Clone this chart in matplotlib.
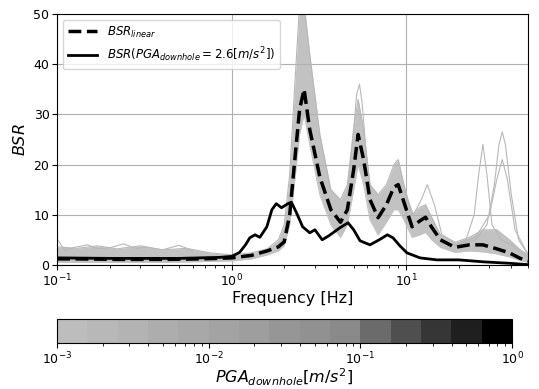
import numpy as np
import matplotlib
matplotlib.use('Agg')
import matplotlib.pyplot as plt
from matplotlib.colors import ListedColormap, LogNorm
from matplotlib.cm import ScalarMappable

# common frequency grid [Hz]
freq = [0.1, 0.13, 0.17, 0.22, 0.3, 0.4, 0.55, 0.75, 1.0, 1.3, 1.6, 1.85, 2.0,
        2.15, 2.3, 2.45, 2.6, 2.8, 3.2, 3.7, 4.2, 4.6, 5.0, 5.3, 5.7, 6.2, 6.9,
        7.7, 8.5, 9.0, 9.7, 10.8, 12.0, 12.9, 14.0, 15.7, 19.0, 23.0, 27.5,
        33.0, 39.0, 45.0, 50.0]

bsr_linear = [1.2, 1.2, 1.15, 1.1, 1.1, 1.1, 1.15, 1.25, 1.4, 1.9, 2.8, 3.6, 4.6,
              10.0, 21.0, 31.0, 35.0, 27.0, 17.5, 11.0, 8.5, 11.0, 19.0, 26.0,
              21.0, 13.0, 9.4, 12.0, 15.5, 16.0, 12.5, 7.6, 8.8, 9.5, 7.5, 5.0,
              3.5, 4.0, 4.0, 3.2, 2.4, 1.3, 0.8]

# envelope of the bundle of BSR curves (all PGA levels)
band_hi = [3.6, 3.3, 3.8, 3.2, 3.8, 3.0, 3.3, 2.4, 2.0, 2.4, 3.2, 5.0, 8.0,
           18.0, 36.0, 52.0, 52.0, 42.0, 26.0, 15.0, 13.0, 16.0, 27.0, 33.0,
           27.0, 16.0, 14.0, 16.0, 20.0, 21.0, 16.0, 10.0, 11.5, 12.0, 9.5, 6.0,
           4.5, 5.5, 7.0, 7.0, 5.0, 3.0, 2.0]
band_lo = [0.5, 0.5, 0.5, 0.5, 0.5, 0.5, 0.6, 0.7, 0.8, 1.2, 2.0, 2.8, 3.8,
           8.0, 17.0, 26.0, 30.0, 24.0, 14.0, 8.0, 5.5, 8.0, 15.0, 20.0, 16.0,
           9.0, 6.0, 8.5, 11.0, 11.0, 9.0, 5.5, 6.0, 6.5, 5.0, 3.5, 2.5, 2.8,
           2.6, 2.2, 1.6, 0.9, 0.5]

# single gray curves standing out of the bundle
out_f1 = [15.7, 19.0, 22.0, 24.5, 26.0, 27.5, 29.0, 31.0, 35.0, 40.0, 45.0, 50.0]
out_v1 = [4.5, 4.0, 5.0, 10.0, 18.0, 24.0, 18.0, 8.0, 5.0, 4.0, 2.5, 1.5]
out_f2 = [19.0, 25.0, 29.0, 32.0, 34.0, 35.5, 37.0, 40.0, 44.0, 50.0]
out_v2 = [4.0, 5.0, 8.0, 16.0, 24.0, 26.5, 24.0, 14.0, 5.0, 2.0]
out_f3 = [19.0, 25.0, 30.0, 33.0, 35.5, 38.0, 42.0, 50.0]
out_v3 = [4.0, 5.5, 10.0, 17.0, 21.0, 17.0, 7.0, 2.0]
out_f4 = [9.7, 11.0, 12.2, 13.2, 14.5, 16.0, 19.0]
out_v4 = [15.0, 10.0, 13.0, 16.0, 12.0, 6.0, 4.5]
out_f5 = [4.6, 5.0, 5.2, 5.4, 5.6, 5.9, 6.3]
out_v5 = [14.0, 27.0, 34.0, 36.0, 32.0, 22.0, 14.0]
out_f6 = [0.1, 0.11, 0.13, 0.15, 0.17, 0.2, 0.24, 0.28, 0.33, 0.4, 0.5, 0.6]
out_v6 = [5.2, 3.0, 3.6, 4.0, 3.2, 3.4, 4.2, 3.3, 3.5, 3.0, 3.9, 2.8]

# BSR for PGA_downhole = 2.6 m/s2
freq_nl = [0.1, 0.2, 0.5, 0.85, 1.0, 1.11, 1.2, 1.27, 1.36, 1.45, 1.59, 1.7,
           1.8, 1.93, 2.1, 2.2, 2.35, 2.55, 2.8, 3.0, 3.3, 3.6, 4.17, 4.64, 5.0,
           5.44, 6.2, 7.0, 7.8, 8.4, 9.2, 10.1, 12.0, 15.0, 20.0, 28.0, 40.0, 50.0]
bsr_nl = [1.4, 1.3, 1.3, 1.5, 1.7, 2.5, 4.0, 5.4, 6.0, 5.5, 7.6, 11.0, 12.2,
          11.4, 12.2, 12.5, 10.4, 7.6, 6.4, 7.0, 5.0, 5.8, 7.4, 8.4, 7.0, 4.8,
          4.0, 5.0, 6.0, 5.4, 3.8, 2.4, 1.4, 1.0, 1.0, 0.6, 0.3, 0.05]

# colorbar levels (15 gray steps between 1e-3 and 1e0)
gray_levels = [0.74, 0.72, 0.70, 0.68, 0.66, 0.64, 0.62, 0.59, 0.57, 0.54,
               0.42, 0.31, 0.21, 0.12, 0.0]

fig = plt.figure(figsize=(5.39, 3.89), dpi=100)
ax = fig.add_axes([0.106, 0.319, 0.874, 0.645])

ax.fill_between(freq, band_lo, band_hi, color='#c2c2c2', lw=0)
ax.plot(freq, band_hi, color='#b8b8b8', lw=0.8)
ax.plot(freq, band_lo, color='#c4c4c4', lw=0.8)
for f, v in [(out_f1, out_v1), (out_f2, out_v2), (out_f3, out_v3),
             (out_f4, out_v4), (out_f5, out_v5), (out_f6, out_v6)]:
    ax.plot(f, v, color='#b8b8b8', lw=0.8)

ax.plot(freq, bsr_linear, 'k--', lw=2.5, label='$BSR_{linear}$')
ax.plot(freq_nl, bsr_nl, 'k-', lw=2.0,
        label='$BSR(PGA_{downhole}=2.6[m/s^2])$')

ax.set_xscale('log')
ax.set_xlim(0.1, 50)
ax.set_ylim(0, 50)
ax.set_yticks([0, 10, 20, 30, 40, 50])
ax.grid(True, which='major', color='#b0b0b0', lw=0.8)
ax.tick_params(labelsize=9, pad=2)
ax.set_xlabel('Frequency [Hz]', fontsize=11.5, labelpad=1)
ax.set_ylabel('$BSR$', fontsize=11.5)
ax.legend(loc='upper left', fontsize=8.5, handlelength=2.5)

cax = fig.add_axes([0.106, 0.118, 0.844, 0.062])
cmap = ListedColormap([str(g) for g in gray_levels])
sm = ScalarMappable(norm=LogNorm(vmin=1e-3, vmax=1), cmap=cmap)
cb = fig.colorbar(sm, cax=cax, orientation='horizontal')
cb.ax.tick_params(labelsize=9, pad=2)
cb.set_label('$PGA_{downhole}[m/s^2]$', fontsize=11.5, labelpad=0)

fig.savefig('out.png', dpi=100)
